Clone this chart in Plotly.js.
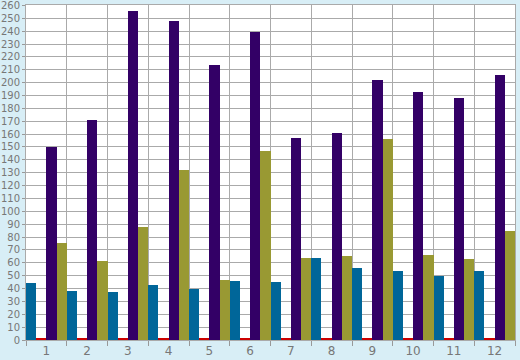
<!DOCTYPE html>
<html><head><meta charset="utf-8">
<script src="https://cdn.plot.ly/plotly-3.0.1.min.js"></script>
<style>html,body{margin:0;padding:0;background:#d8eef6;}#chart{width:520px;height:360px;}</style>
</head><body><div id="chart"></div>
<script>
const categories = ['1','2','3','4','5','6','7','8','9','10','11','12'];
const seriesTeal   = [44, 38, 37, 43, 40, 46, 45, 64, 56, 54, 50, 54];
const seriesRed    = [1.2, 1.2, 1.2, 1.2, 1.2, 1.2, 1.2, 1.2, 1.2, 1.2, 1.2, 1.2];
const seriesPurple = [150, 171, 256, 248, 214, 239, 157, 161, 202, 193, 188, 206];
const seriesOlive  = [75, 61, 88, 132, 47, 147, 64, 65, 156, 66, 63, 85];
const yTicks = [0,10,20,30,40,50,60,70,80,90,100,110,120,130,140,150,160,170,180,190,200,210,220,230,240,250,260];

const mk = (y, color, name) => ({type:'bar', x:categories, y:y, name:name, marker:{color:color, line:{width:0}}, hoverinfo:'y'});
const data = [
  mk(seriesTeal, '#006699', 'A'),
  mk(seriesRed, '#cc0000', 'B'),
  mk(seriesPurple, '#330066', 'C'),
  mk(seriesOlive, '#999933', 'D')
];
const layout = {
  width:520, height:360,
  margin:{l:26, r:5, t:5, b:20, pad:0},
  paper_bgcolor:'#d8eef6', plot_bgcolor:'#ffffff',
  showlegend:false, barmode:'group', bargap:0, bargroupgap:0,
  font:{family:'DejaVu Sans, Verdana, sans-serif', size:11, color:'#777777'},
  xaxis:{type:'category', tickson:'boundaries', ticks:'outside', ticklen:5, tickcolor:'#999999',
    showgrid:true, gridcolor:'#aaaaaa', gridwidth:1, showline:true, linecolor:'#aaaaaa', mirror:true,
    tickfont:{size:12, color:'#777777'}, fixedrange:true},
  yaxis:{range:[0,260.3], tickvals:yTicks, ticktext:yTicks.map(String), ticks:'outside', ticklen:3, tickcolor:'#999999',
    showgrid:true, gridcolor:'#aaaaaa', gridwidth:1, showline:true, linecolor:'#aaaaaa', mirror:true, zeroline:false,
    tickfont:{size:10, color:'#777777'}, ticklabelstandoff:0, ticklabeloverflow:'allow', fixedrange:true}
};
Plotly.newPlot('chart', data, layout, {displayModeBar:false, staticPlot:true});
</script></body></html>
